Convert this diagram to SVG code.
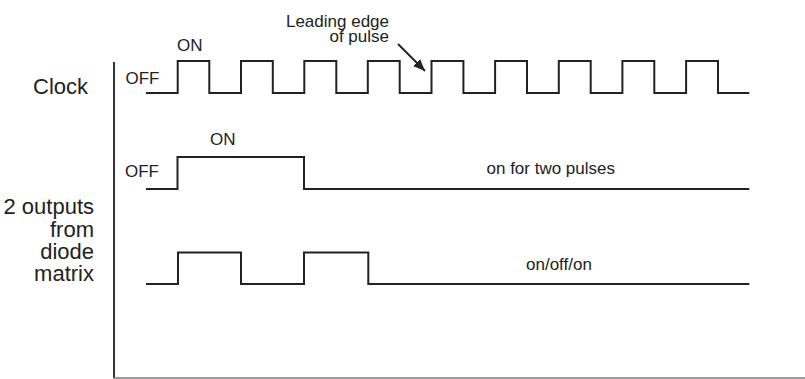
<svg xmlns="http://www.w3.org/2000/svg" width="805" height="379" viewBox="0 0 805 379">
  <style>
    .trace { fill: none; stroke: #222; stroke-width: 2; stroke-linejoin: miter; stroke-linecap: butt; }
    .axis { fill: none; stroke: #333; stroke-width: 2; }
    .base { fill: none; stroke: #777; stroke-width: 1.6; }
    .big { font-family: "Liberation Sans", Arial, sans-serif; font-size: 22px; fill: #222; }
    .small { font-family: "Liberation Sans", Arial, sans-serif; font-size: 17px; fill: #222; }
  </style>
  <defs>
    <marker id="arrowhead" viewBox="0 0 12 10" refX="12" refY="5" markerWidth="12" markerHeight="10" markerUnits="userSpaceOnUse" orient="auto">
      <path d="M0,0 L12,5 L0,10 z" fill="#222"/>
    </marker>
  </defs>

  <rect width="805" height="379" fill="#fff"/>

  <!-- time axes -->
  <g id="axes">
    <line class="axis" x1="114" y1="62" x2="114" y2="378"/>
    <line class="base" x1="113" y1="378" x2="805" y2="378"/>
  </g>

  <!-- clock waveform -->
  <g id="clock">
    <text class="big" x="33" y="94">Clock</text>
    <text class="small" x="125.5" y="83.5">OFF</text>
    <text class="small" x="177" y="50.5">ON</text>
    <path class="trace" d="M146,93 H177.7 V61 H209.3 V93 H241 V61 H272.8 V93 H304.3 V61 H336.3 V93 H367.8 V61 H399.7 V93 H431.5 V61 H463.4 V93 H495.1 V61 H527 V93 H558.8 V61 H590.7 V93 H622.4 V61 H654.3 V93 H686.1 V61 H718 V93 H749.3"/>
  </g>

  <!-- annotation for the rising edge -->
  <g id="leading-edge">
    <text class="small" text-anchor="end" x="389" y="26.5">Leading edge</text>
    <text class="small" text-anchor="end" x="389" y="42">of pulse</text>
  </g>

  <!-- side label for the matrix outputs -->
  <g id="outputs-label">
    <text class="big" text-anchor="end" x="94" y="214">2 outputs</text>
    <text class="big" text-anchor="end" x="94" y="236.5">from</text>
    <text class="big" text-anchor="end" x="94" y="258.5">diode</text>
    <text class="big" text-anchor="end" x="94" y="281">matrix</text>
  </g>

  <!-- first output: on for two pulses -->
  <g id="output-1">
    <text class="small" x="125" y="176.5">OFF</text>
    <text class="small" x="210" y="145">ON</text>
    <text class="small" x="486.5" y="174">on for two pulses</text>
    <path class="trace" d="M146,189 H177.5 V157 H304 V189 H749.3"/>
  </g>

  <!-- second output: on/off/on -->
  <g id="output-2">
    <text class="small" x="526" y="269.5">on/off/on</text>
    <path class="trace" d="M146,284 H178 V252.5 H241 V284 H304 V252.5 H368.3 V284 H749.3"/>
  </g>

  <g id="connectors">
    <line class="trace" x1="398" y1="44" x2="425" y2="71" marker-end="url(#arrowhead)"/>
  </g>
</svg>
